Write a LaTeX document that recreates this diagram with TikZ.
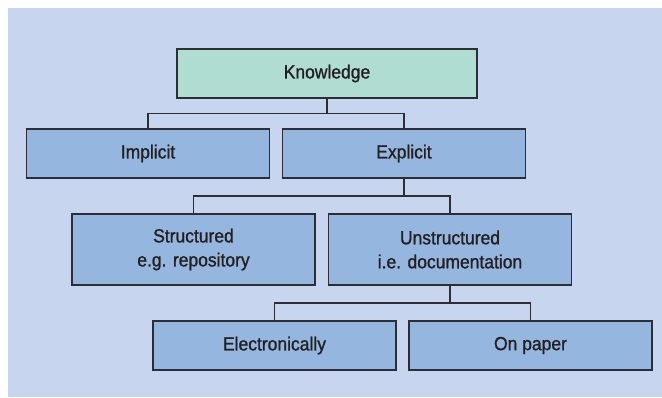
\documentclass[tikz,border=0pt]{standalone}
\usepackage{fontspec}
\setmainfont[FakeStretch=0.92, FakeBold=1.1]{Liberation Sans}
\usetikzlibrary{calc}
\definecolor{bgblue}{RGB}{199,213,238}
\definecolor{mint}{RGB}{176,221,210}
\definecolor{boxblue}{RGB}{149,182,222}
\definecolor{edge}{RGB}{45,45,52}
\definecolor{txt}{RGB}{35,31,32}
\begin{document}
\begin{tikzpicture}[x=1pt,y=-1pt,
  box/.style={draw=edge, line width=1.3pt, fill=boxblue, inner sep=0pt,
    minimum width=243pt, minimum height=49pt, align=center,
    font=\fontsize{19}{24}\selectfont, text=txt},
  topbox/.style={box, fill=mint, minimum width=300pt},
  tallbox/.style={box, minimum height=71pt},
  link/.style={draw=edge, line width=1.1pt}]
\useasboundingbox (0,0) rectangle (662,397);
\fill[white] (0,0) rectangle (662,397);
\fill[bgblue] (8,8) rectangle (662,397);
\node[topbox] (k) at (327,73.5) {Knowledge};
\node[box] (imp) at (148,153.5) {Implicit};
\node[box] (exp) at (404,153.5) {Explicit};
\node[tallbox] (str) at (193.5,249.5) {Structured\\e.g. repository};
\node[tallbox] (uns) at (450,249.5) {Unstructured\\i.e. documentation};
\node[box] (ele) at (274.5,345.5) {Electronically};
\node[box] (pap) at (530.5,345.5) {On paper};
\coordinate (b1) at ($(k.south)!.5!(imp.north)$);
\coordinate (b2) at ($(exp.south)!.5!(str.north)$);
\coordinate (b3) at ($(uns.south)!.5!(ele.north)$);
\draw[link] (k.south) -- (k.south |- b1);
\draw[link] (imp.north) |- (b1) -| (exp.north);
\draw[link] (exp.south) -- (exp.south |- b2);
\draw[link] (str.north) |- (b2) -| (uns.north);
\draw[link] (uns.south) -- (uns.south |- b3);
\draw[link] (ele.north) |- (b3) -| (pap.north);
\end{tikzpicture}
\end{document}
